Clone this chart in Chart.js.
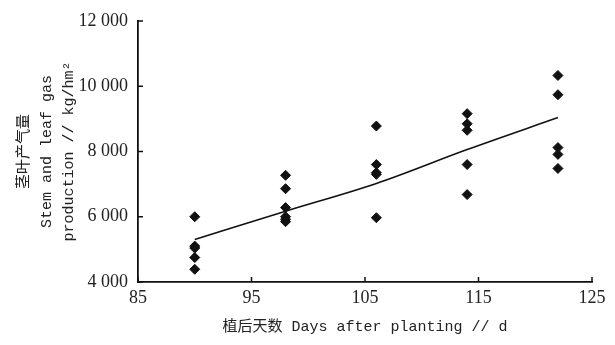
<!DOCTYPE html>
<html>
<head>
<meta charset="utf-8">
<script src="https://cdn.jsdelivr.net/npm/chart.js@4"></script>
<style>
  html, body { margin: 0; padding: 0; background: #fff; }
  #wrap { width: 615px; height: 345px; }
</style>
</head>
<body>
<div id="wrap"><canvas id="c"></canvas></div>
<script>
// observed days and gas production (kg/hm2)
const days90 = [6000, 5100, 5040, 4750, 4390];
const days98 = [7270, 6860, 6280, 6000, 5920, 5850];
const days106 = [8780, 7600, 7350, 7300, 5970];
const days114 = [9160, 8850, 8650, 7600, 6680];
const days122 = [10330, 9740, 8120, 7910, 7480];
const sampleDays = [90, 98, 106, 114, 122];
const trendValues = [5300, 6170, 7020, 8060, 9040];
const xTicks = [85, 95, 105, 115, 125];
const yTicks = [4000, 6000, 8000, 10000, 12000];

const groups = [days90, days98, days106, days114, days122];
const points = [];
groups.forEach((vals, i) => {
    vals.forEach(v => points.push({ x: sampleDays[i], y: v }));
});
const trend = sampleDays.map((d, i) => ({ x: d, y: trendValues[i] }));

// ticks drawn inward, like the original figure
const innerTicks = {
    id: 'innerTicks',
    afterDraw(chart) {
        const { ctx, chartArea, scales } = chart;
        ctx.save();
        ctx.strokeStyle = '#111';
        ctx.lineWidth = 1.5;
        ctx.beginPath();
        xTicks.forEach(t => {
            const px = scales.x.getPixelForValue(t);
            ctx.moveTo(px, chartArea.bottom);
            ctx.lineTo(px, chartArea.bottom - 5);
        });
        yTicks.forEach(t => {
            const py = scales.y.getPixelForValue(t);
            ctx.moveTo(chartArea.left, py);
            ctx.lineTo(chartArea.left + 5, py);
        });
        ctx.stroke();
        ctx.restore();
    }
};

new Chart(document.getElementById('c'), {
    type: 'scatter',
    data: {
        datasets: [
            {
                data: points,
                pointStyle: 'rectRot',
                pointRadius: 5,
                backgroundColor: '#111',
                borderColor: '#111',
                borderWidth: 1
            },
            {
                data: trend,
                showLine: true,
                pointRadius: 0,
                borderColor: '#111',
                borderWidth: 1.6,
                cubicInterpolationMode: 'monotone'
            }
        ]
    },
    options: {
        responsive: true,
        maintainAspectRatio: false,
        animation: false,
        layout: { padding: { top: 21, right: 23, left: 0, bottom: 0 } },
        plugins: { legend: { display: false }, tooltip: { enabled: false } },
        scales: {
            x: {
                type: 'linear',
                min: 85, max: 125,
                afterBuildTicks: s => { s.ticks = xTicks.map(v => ({ value: v })); },
                afterFit: s => { s.height = 63; },
                grid: { display: false, drawTicks: false },
                border: { color: '#111', width: 1.8 },
                ticks: {
                    padding: 5,
                    color: '#222',
                    font: { family: '"Liberation Serif"', size: 18 }
                },
                title: {
                    display: true,
                    text: '植后天数 Days after planting // d',
                    color: '#222',
                    padding: { top: 0, bottom: 9 },
                    font: { family: '"Liberation Mono", "Noto Sans CJK SC"', size: 15 }
                }
            },
            y: {
                min: 4000, max: 12000,
                afterBuildTicks: s => { s.ticks = yTicks.map(v => ({ value: v })); },
                afterFit: s => { s.width = 138; },
                grid: { display: false, drawTicks: false },
                border: { color: '#111', width: 1.8 },
                ticks: {
                    padding: 10,
                    color: '#222',
                    font: { family: '"Liberation Serif"', size: 18 },
                    callback: v => (v / 1000) + ' 000'
                },
                title: {
                    display: true,
                    text: ['茎叶产气量', 'Stem and leaf gas', 'production // kg/hm²'],
                    color: '#222',
                    padding: { top: 13, bottom: 0 },
                    font: { family: '"Liberation Mono", "Noto Sans CJK SC"', size: 15, lineHeight: 1.5 }
                }
            }
        }
    },
    plugins: [innerTicks]
});
</script>
</body>
</html>
